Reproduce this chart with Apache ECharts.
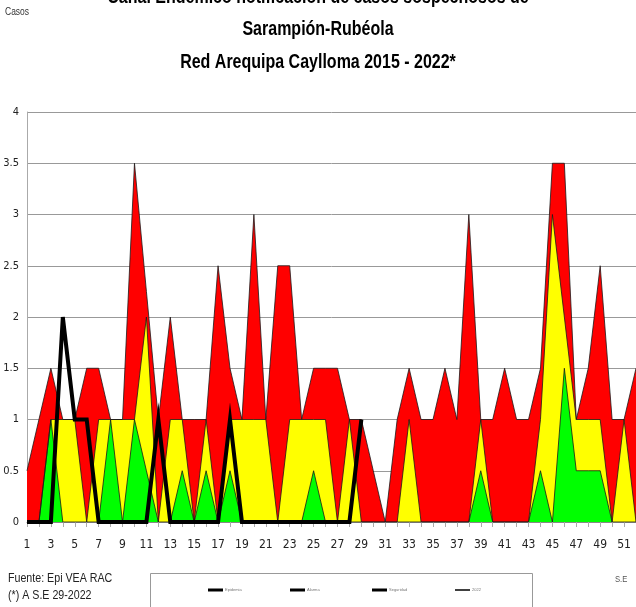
<!DOCTYPE html>
<html>
<head>
<meta charset="utf-8">
<script src="https://cdn.jsdelivr.net/npm/echarts@6/dist/echarts.min.js"></script>
<style>
html, body { margin: 0; padding: 0; background: #fff; }
#chart { width: 636px; height: 607px; }
</style>
</head>
<body>
<div id="chart"></div>
<script>
// semanas epidemiologicas
const semanas = ['1','2','3','4','5','6','7','8','9','10','11','12','13','14','15','16','17','18','19','20',
  '21','22','23','24','25','26','27','28','29','30','31','32','33','34','35','36','37','38','39','40',
  '41','42','43','44','45','46','47','48','49','50','51','52']

// zona de epidemia (rojo)
const epidemia = [0.5, 1, 1.5, 1, 1, 1.5, 1.5, 1, 1, 3.5, 2.25, 1, 2, 1, 1, 1, 2.5, 1.5, 1, 3,
  1, 2.5, 2.5, 1, 1.5, 1.5, 1.5, 1, 1, 0.5, 0, 1, 1.5, 1, 1, 1.5, 1, 3, 1, 1,
  1.5, 1, 1, 1.5, 3.5, 3.5, 1, 1.5, 2.5, 1, 1, 1.5]
// zona de alarma (amarillo)
const alarma = [0, 0, 1, 1, 1, 0, 1, 1, 1, 1, 2, 0, 1, 1, 0, 1, 0, 1, 1, 1,
  1, 0, 1, 1, 1, 1, 0, 1, 0, 0, 0, 0, 1, 0, 0, 0, 0, 0, 1, 0,
  0, 0, 0, 1, 3, 2, 1, 1, 1, 0, 1, 0]
// zona de seguridad (verde)
const seguridad = [0, 0, 1, 0, 0, 0, 0, 1, 0, 1, 0.5, 0, 0, 0.5, 0, 0.5, 0, 0.5, 0, 0,
  0, 0, 0, 0, 0.5, 0, 0, 0, 0, 0, 0, 0, 0, 0, 0, 0, 0, 0, 0.5, 0,
  0, 0, 0, 0.5, 0, 1.5, 0.5, 0.5, 0.5, 0, 0, 0]
// casos 2022 hasta la S.E 29
const casos2022 = [0, 0, 0, 2, 1, 1, 0, 0, 0, 0, 0, 1, 0, 0, 0, 0, 0, 1, 0, 0,
  0, 0, 0, 0, 0, 0, 0, 0, 1]

const titulo = ['Canal Endémico notificación de casos sospechosos de', 'Sarampión-Rubéola', 'Red Arequipa Caylloma 2015 - 2022*']

const sans = "'Liberation Sans', Arial, sans-serif"
const narrow = "'Liberation Sans Narrow', 'Arial Narrow', 'DejaVu Sans Condensed', sans-serif"

const chart = echarts.init(document.getElementById('chart'))

const areaSerie = (name, data, color) => ({
  name,
  type: 'line',
  data,
  symbol: 'none',
  lineStyle: { color: '#1a1a1a', width: 0.8 },
  areaStyle: { color, opacity: 1 }
})

const legendItem = (name, left, h) => ({
  data: [{ name, itemStyle: { color: '#000' } }],
  left,
  top: 588,
  icon: 'rect',
  itemWidth: 15,
  itemHeight: h,
  padding: 0,
  selectedMode: false,
  textStyle: { fontSize: 4, color: '#777', padding: [0, 0, 0, -3] }
})

// titulo en tres lineas, comprimido como letra narrow
const tituloGraphic = titulo.map((t, i) => ({
  type: 'text',
  x: 318,
  y: -3 + i * 32.5,
  scaleX: 0.8,
  style: {
    text: t,
    fontSize: 20,
    fontWeight: 'bold',
    fontFamily: sans,
    fill: '#000',
    align: 'center',
    verticalAlign: 'middle'
  }
}))

chart.setOption({
  backgroundColor: '#fff',
  animation: false,
  legend: [
    legendItem('Epidemia', 208, 3),
    legendItem('Alarma', 290, 3),
    legendItem('Seguridad', 372, 3),
    legendItem('2022', 455, 1.5)
  ],
  graphic: [
    ...tituloGraphic,
    { type: 'text', x: 5, y: 7, scaleX: 0.85, style: { text: 'Casos', fontSize: 10, fontFamily: sans, fill: '#333' } },
    { type: 'text', x: 8, y: 572, scaleX: 0.82, style: { text: 'Fuente: Epi VEA RAC', fontSize: 13, fontFamily: sans, fill: '#222' } },
    { type: 'text', x: 8, y: 589, scaleX: 0.82, style: { text: '(*) A S.E 29-2022', fontSize: 13, fontFamily: sans, fill: '#222' } },
    { type: 'text', x: 615, y: 575, scaleX: 0.85, style: { text: 'S.E', fontSize: 9, fontFamily: sans, fill: '#555' } },
    { type: 'rect', shape: { x: 150.5, y: 573.5, width: 382, height: 60 }, style: { fill: 'none', stroke: '#999', lineWidth: 1 } }
  ],
  grid: { left: 27, right: -4, top: 112, bottom: 85 },
  xAxis: {
    type: 'category',
    data: semanas,
    boundaryGap: false,
    axisLine: { lineStyle: { color: '#888', width: 1 } },
    axisTick: { show: true, interval: 0, length: 5, lineStyle: { color: '#aaa' } },
    axisLabel: { interval: 1, margin: 17, fontSize: 12, fontFamily: narrow, color: '#222' }
  },
  yAxis: {
    type: 'value',
    min: 0,
    max: 4,
    interval: 0.5,
    axisLine: { show: true, lineStyle: { color: '#aaa', width: 1 } },
    axisTick: { show: false },
    axisLabel: { margin: 8, fontSize: 11, fontFamily: narrow, color: '#222' },
    splitLine: { lineStyle: { color: '#999', width: 1 } }
  },
  series: [
    areaSerie('Epidemia', epidemia, '#ff0000'),
    areaSerie('Alarma', alarma, '#ffff00'),
    areaSerie('Seguridad', seguridad, '#00ff00'),
    {
      name: '2022',
      type: 'line',
      data: casos2022,
      symbol: 'none',
      z: 5,
      lineStyle: { color: '#000', width: 4, join: 'miter' }
    }
  ]
})
</script>
</body>
</html>
